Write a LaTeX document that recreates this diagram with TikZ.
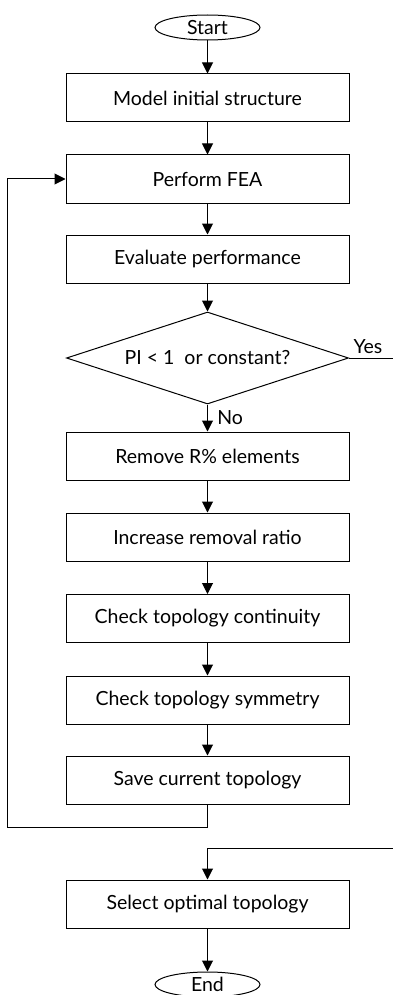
\documentclass[tikz,border=0pt]{standalone}
\usepackage{fontspec}
\setmainfont{Lato}
\usetikzlibrary{shapes.geometric,arrows.meta}
\begin{document}
\begin{tikzpicture}[x=1pt,y=-1pt,
  font=\fontsize{19.5}{22}\selectfont,
  line width=1pt,
  stepbox/.style={draw, rectangle, minimum width=283pt, minimum height=48pt, inner sep=0pt},
  terminal/.style={draw, ellipse, minimum width=105pt, minimum height=25pt, inner sep=0pt},
  decision/.style={draw, diamond, shape aspect=3.07, minimum width=282pt, minimum height=92pt, inner sep=0pt},
  flow/.style={-{Triangle[length=11pt,width=11pt]}},
  link/.style={}
]
\useasboundingbox (0,0) rectangle (393,995);

\node[terminal] (start) at (207.5,27.5) {Start};
\node[stepbox] (model) at (207.5,98) {Model initial structure};
\node[stepbox] (fea) at (207.5,179) {Perform FEA};
\node[stepbox] (eval) at (207.5,259) {Evaluate performance};
\node[decision] (check) at (207.5,358) {PI < 1 \ or constant?};
\node[stepbox] (remove) at (207.5,456) {Remove R\% elements};
\node[stepbox] (increase) at (207.5,537) {Increase removal ratio};
\node[stepbox] (cont) at (207.5,618.5) {Check topology continuity};
\node[stepbox] (sym) at (207.5,700) {Check topology symmetry};
\node[stepbox] (save) at (207.5,780) {Save current topology};
\node[stepbox] (select) at (207.5,904) {Select optimal topology};
\node[terminal] (end) at (207.5,984.5) {End};

\coordinate (loopdown) at (207.5,827);
\coordinate (loopleft) at (7,827);
\coordinate (loopup) at (7,179);
\coordinate (yesend) at (393,358);
\coordinate (yesin) at (393,848);
\coordinate (yesturn) at (207.5,848);

\draw[flow] (start) -- (model);
\draw[flow] (model) -- (fea);
\draw[flow] (fea) -- (eval);
\draw[flow] (eval) -- (check);
\draw[flow] (check) -- node[right, xshift=6pt] {No} (remove);
\draw[flow] (remove) -- (increase);
\draw[flow] (increase) -- (cont);
\draw[flow] (cont) -- (sym);
\draw[flow] (sym) -- (save);
\draw[flow] (save.south) -- (loopdown) -- (loopleft) -- (loopup) -- (fea.west);
\draw[link] (check.east) -- node[above, xshift=-3pt, yshift=1pt] {Yes} (yesend);
\draw[flow] (yesin) -- (yesturn) -- (select.north);
\draw[flow] (select) -- (end);
\end{tikzpicture}
\end{document}
